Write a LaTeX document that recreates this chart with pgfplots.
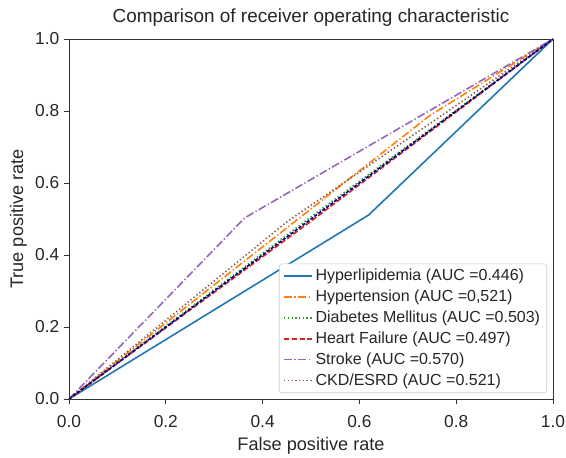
\documentclass[border=0pt]{standalone}
\usepackage{pgfplots}
\pgfplotsset{compat=1.18}
\usepackage{fontspec}
\setmainfont{Liberation Sans}
\definecolor{c0}{HTML}{1F77B4}
\definecolor{c1}{HTML}{FF7F0E}
\definecolor{c2}{HTML}{2CA02C}
\definecolor{c3}{HTML}{D62728}
\definecolor{c4}{HTML}{9467BD}
\definecolor{c5}{HTML}{8C564B}
\definecolor{navyc}{HTML}{000080}
\begin{document}
\begin{tikzpicture}
\begin{axis}[
  scale only axis, width=363pt, height=270pt,
  xmin=0, xmax=1, ymin=0, ymax=1,
  xtick={0,0.2,0.4,0.6,0.8,1}, ytick={0,0.2,0.4,0.6,0.8,1},
  tick pos=left, tick align=outside, major tick length=3.8pt,
  tick style={black!80, line width=0.6pt},
  axis line style={black!80, line width=0.6pt},
  /pgf/number format/assume math mode=true,
  /pgf/number format/fixed, /pgf/number format/fixed zerofill, /pgf/number format/precision=1,
  font=\fontsize{13}{15}\selectfont,
  ticklabel style={font=\fontsize{13}{15}\selectfont, text=black!85},
  xticklabel style={yshift=-5pt},
  title={Comparison of receiver operating characteristic},
  title style={at={(axis description cs:0.5,1)}, anchor=center, yshift=9.75pt, font=\fontsize{14.2}{16}\selectfont, text=black!85},
  xlabel={False positive rate},
  ylabel={True positive rate},
  xlabel style={at={(axis description cs:0.5,-0.129)}, anchor=center, font=\fontsize{13.6}{15}\selectfont, text=black!85},
  ylabel style={at={(axis description cs:-0.1047,0.5)}, anchor=center, font=\fontsize{13.6}{15}\selectfont, text=black!85},
  legend cell align=left,
  legend image code/.code={\draw[#1] (0pt,0pt) -- (21pt,0pt);},
  legend style={at={(axis description cs:1,0)}, anchor=south east, xshift=-4.5pt, yshift=4.5pt,
    draw=black!20, rounded corners=2pt, font=\fontsize{12}{14}\selectfont, text=black!85,
    row sep=1.5pt, inner xsep=3pt, inner ysep=2pt},
]
\addplot[c0, line width=1.2pt] coordinates {(0,0) (0.619,0.511) (1,1)};
\addlegendentry{Hyperlipidemia (AUC =0.446)}
\addplot[c1, line width=1.2pt, dash pattern=on 6pt off 1.8pt on 1pt off 1.8pt] coordinates {(0,0) (0.745,0.787) (1,1)};
\addlegendentry{Hypertension (AUC =0,521)}
\addplot[c2, line width=1.2pt, dash pattern=on 1pt off 1.8pt] coordinates {(0,0) (0.5,0.506) (1,1)};
\addlegendentry{Diabetes Mellitus (AUC =0.503)}
\addplot[c3, line width=1.2pt, dash pattern=on 4pt off 1.8pt] coordinates {(0,0) (0.5,0.494) (1,1)};
\addlegendentry{Heart Failure (AUC =0.497)}
\addplot[c4, line width=1.2pt, dash pattern=on 6pt off 1.8pt on 1pt off 1.8pt] coordinates {(0,0) (0.363,0.503) (1,1)};
\addlegendentry{Stroke (AUC =0.570)}
\addplot[c5, line width=1.2pt, dash pattern=on 1pt off 1.8pt] coordinates {(0,0) (0.45,0.492) (1,1)};
\addlegendentry{CKD/ESRD (AUC =0.521)}
\addplot[navyc, line width=1.2pt, dash pattern=on 2.5pt off 1.2pt, forget plot] coordinates {(0,0) (1,1)};
\end{axis}
\path (current axis.south west) +(-51.75pt,-43.5pt) coordinate (bl);
\path (current axis.north east) +(9.75pt,29.25pt) coordinate (tr);
\pgfresetboundingbox
\useasboundingbox (bl) rectangle (tr);
\end{tikzpicture}
\end{document}
